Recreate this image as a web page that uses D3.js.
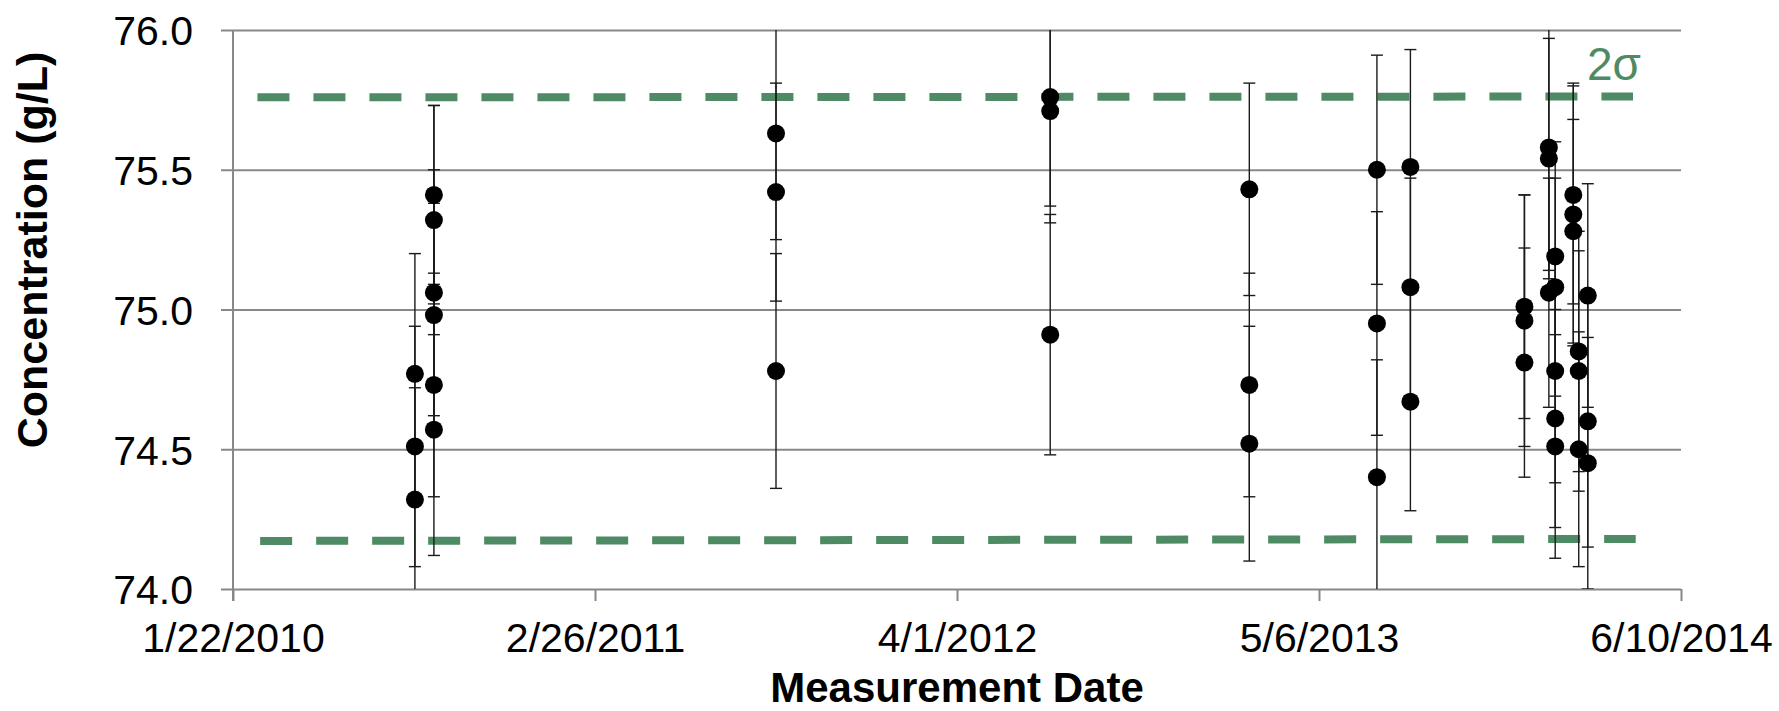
<!DOCTYPE html>
<html>
<head>
<meta charset="utf-8">
<script src="https://cdn.jsdelivr.net/npm/d3@7"></script>
<style>
  body { margin: 0; background: #fff; }
  svg { display: block; font-family: "Liberation Sans", Arial, sans-serif; }
</style>
</head>
<body>
<div class="chart"></div>
<script>
// tick labels
var xTickLabels = ["1/22/2010", "2/26/2011", "4/1/2012", "5/6/2013", "6/10/2014"];
var yTicks = [74.0, 74.5, 75.0, 75.5, 76.0];

// measurements: date, concentration (g/L), error bar (+/-)
var measDates = [
  "8/11/2010", "8/11/2010", "8/11/2010",
  "9/1/2010", "9/1/2010", "9/1/2010", "9/1/2010", "9/1/2010", "9/1/2010",
  "9/14/2011", "9/14/2011", "9/14/2011",
  "7/13/2012", "7/13/2012", "7/13/2012",
  "2/18/2013", "2/18/2013", "2/18/2013",
  "7/9/2013", "7/9/2013", "7/9/2013",
  "8/15/2013", "8/15/2013", "8/15/2013",
  "12/19/2013", "12/19/2013", "12/19/2013",
  "1/15/2014", "1/15/2014", "1/15/2014",
  "1/22/2014", "1/22/2014", "1/22/2014", "1/22/2014", "1/22/2014",
  "2/11/2014", "2/11/2014", "2/11/2014",
  "2/17/2014", "2/17/2014", "2/17/2014",
  "2/27/2014", "2/27/2014", "2/27/2014"
];
var concs = [
  74.77, 74.51, 74.32,
  75.41, 75.32, 75.06, 74.98, 74.73, 74.57,
  75.63, 75.42, 74.78,
  75.76, 75.71, 74.91,
  75.43, 74.73, 74.52,
  75.50, 74.95, 74.40,
  75.51, 75.08, 74.67,
  75.01, 74.96, 74.81,
  75.58, 75.54, 75.06,
  75.19, 75.08, 74.78, 74.61, 74.51,
  75.41, 75.34, 75.28,
  74.85, 74.78, 74.50,
  75.05, 74.60, 74.45
];
var errs = [
  0.43, 0.43, 0.40,
  0.32, 0.41, 0.44, 0.40, 0.40, 0.45,
  0.38, 0.39, 0.42,
  0.39, 0.40, 0.43,
  0.38, 0.40, 0.42,
  0.41, 0.40, 0.42,
  0.42, 0.39, 0.39,
  0.40, 0.45, 0.41,
  0.44, 0.43, 0.41,
  0.41, 0.39, 0.40, 0.39, 0.40,
  0.39, 0.47, 0.40,
  0.43, 0.43, 0.42,
  0.40, 0.45, 0.45
];

// 2 sigma limits
var upperDates = ["2/18/2010", "4/18/2014"];
var upperVals = [75.759, 75.762];
var lowerDates = ["2/21/2010", "4/21/2014"];
var lowerVals = [74.172, 74.179];

var parse = d3.timeParse("%m/%d/%Y");
var fmt = d3.timeFormat("%-m/%-d/%Y");

var W = 1779, H = 711;
var margin = {top: 30, right: 98, bottom: 122, left: 233};
var width = W - margin.left - margin.right,
    height = H - margin.top - margin.bottom;

var x = d3.scaleTime()
  .domain([parse(xTickLabels[0]), parse(xTickLabels[xTickLabels.length - 1])])
  .range([0, width]);
var y = d3.scaleLinear()
  .domain([74, 76])
  .range([height, 0]);

var svg = d3.select(".chart").append("svg")
  .attr("width", W)
  .attr("height", H)
  .append("g")
  .attr("transform", "translate(" + margin.left + "," + margin.top + ")");

svg.append("clipPath").attr("id", "plot")
  .append("rect").attr("x", -20).attr("y", 0).attr("width", width + 40).attr("height", height);

var green = "#4e8a64", grid = "#888888";

// y axis + gridlines
var yAxis = svg.append("g")
  .call(d3.axisLeft(y).tickValues(yTicks).tickSize(-width).tickPadding(40).tickFormat(d3.format(".1f")));
yAxis.select(".domain").remove();
yAxis.selectAll("line").attr("x1", -12).attr("stroke", grid).attr("stroke-width", 2);
yAxis.selectAll("text").attr("font-size", 41).attr("dy", "0.36em").attr("fill", "#000")
  .attr("font-family", "'Liberation Sans', Arial, sans-serif");

// x axis
var xAxis = svg.append("g")
  .attr("transform", "translate(0," + height + ")")
  .call(d3.axisBottom(x).tickValues(xTickLabels.map(parse)).tickSize(12).tickPadding(22).tickFormat(fmt));
xAxis.select(".domain").remove();
xAxis.selectAll("line").attr("stroke", grid).attr("stroke-width", 2);
xAxis.selectAll("text").attr("font-size", 41).attr("fill", "#000")
  .attr("font-family", "'Liberation Sans', Arial, sans-serif");

// vertical axis line
svg.append("line")
  .attr("x1", 0).attr("x2", 0)
  .attr("y1", 0).attr("y2", height + 12)
  .attr("stroke", grid).attr("stroke-width", 2);

// 2 sigma dashed lines
var line = d3.line()
  .x(function(d) { return x(d[0]); })
  .y(function(d) { return y(d[1]); });
[[upperDates, upperVals], [lowerDates, lowerVals]].forEach(function(s) {
  svg.append("path")
    .datum(s[0].map(function(d, i) { return [parse(d), s[1][i]]; }))
    .attr("d", line)
    .attr("fill", "none")
    .attr("stroke", green)
    .attr("stroke-width", 8)
    .attr("stroke-dasharray", "32 24");
});

var pts = measDates.map(function(d, i) {
  return {date: parse(d), v: concs[i], e: errs[i]};
});

// error bars
var eb = svg.append("g").attr("clip-path", "url(#plot)");
eb.selectAll(".bar")
  .data(pts)
  .enter().append("line")
  .attr("x1", function(d) { return x(d.date); })
  .attr("x2", function(d) { return x(d.date); })
  .attr("y1", function(d) { return y(d.v + d.e); })
  .attr("y2", function(d) { return y(d.v - d.e); })
  .attr("stroke", "#1a1a1a").attr("stroke-width", 1.4);
pts.forEach(function(d) {
  [d.v + d.e, d.v - d.e].forEach(function(c) {
    eb.append("line")
      .attr("x1", x(d.date) - 6).attr("x2", x(d.date) + 6)
      .attr("y1", y(c)).attr("y2", y(c))
      .attr("stroke", "#1a1a1a").attr("stroke-width", 1.4);
  });
});

// markers
svg.selectAll(".dot")
  .data(pts)
  .enter().append("circle")
  .attr("class", "dot")
  .attr("cx", function(d) { return x(d.date); })
  .attr("cy", function(d) { return y(d.v); })
  .attr("r", 9)
  .attr("fill", "#000");

// 2 sigma label
svg.append("text")
  .attr("x", x(parse("2/26/2014")))
  .attr("y", y(75.82))
  .attr("font-size", 46)
  .attr("fill", green)
  .text("2σ");

// axis titles
svg.append("text")
  .attr("transform", "translate(" + (47 - margin.left) + "," + (250 - margin.top) + ") rotate(-90)")
  .attr("text-anchor", "middle")
  .attr("font-size", 43)
  .attr("font-weight", "bold")
  .text("Concentration (g/L)");

svg.append("text")
  .attr("x", width / 2)
  .attr("y", 702 - margin.top)
  .attr("text-anchor", "middle")
  .attr("font-size", 42)
  .attr("font-weight", "bold")
  .text("Measurement Date");
</script>
</body>
</html>
